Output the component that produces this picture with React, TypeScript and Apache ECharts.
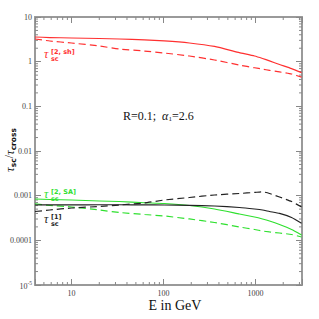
import React, { useEffect, useRef } from 'react';
import * as echarts from 'echarts';

// Energy grid (GeV) and tau_sc / tau_cross values
const energyGeV = [4, 5.8, 10, 20, 33, 62, 102, 191, 358, 667, 975, 1191, 1419, 1823, 2463, 3162];
const tauShSolid = [3.57, 3.47, 3.39, 3.30, 3.22, 3.08, 2.92, 2.62, 2.19, 1.60, 1.34, 1.18, 1.04, 0.865, 0.70, 0.57];
const tauShDashed = [3.22, 2.90, 2.62, 2.24, 1.92, 1.73, 1.56, 1.34, 1.09, 0.84, 0.73, 0.68, 0.64, 0.59, 0.53, 0.45];
const tauSaSolid = [8.43e-4, 8.2e-4, 8.0e-4, 7.6e-4, 7.41e-4, 6.95e-4, 6.68e-4, 6.03e-4, 5.03e-4, 3.89e-4, 3.33e-4, 3.01e-4, 2.71e-4, 2.26e-4, 1.75e-4, 1.32e-4];
const tauSaDashed = [6.52e-4, 6.03e-4, 5.58e-4, 4.78e-4, 4.2e-4, 3.79e-4, 3.51e-4, 3.01e-4, 2.51e-4, 1.99e-4, 1.75e-4, 1.62e-4, 1.54e-4, 1.46e-4, 1.35e-4, 1.19e-4];
const tau1Solid = [6.18e-4, 6.2e-4, 6.24e-4, 6.26e-4, 6.26e-4, 6.24e-4, 6.18e-4, 6.05e-4, 5.87e-4, 5.43e-4, 5.03e-4, 4.78e-4, 4.42e-4, 4.0e-4, 3.25e-4, 2.42e-4];
const tau1Dashed = [4.42e-4, 4.78e-4, 5.30e-4, 5.73e-4, 6.18e-4, 6.86e-4, 8.0e-4, 9.1e-4, 1.035e-3, 1.12e-3, 1.18e-3, 1.22e-3, 1.12e-3, 9.33e-4, 7.41e-4, 5.58e-4];

// Axis ranges and tick labels
const xRange = [4, 3200];
const yRange = [1e-5, 10];
const xTickExponents = [1, 2, 3];
const xTickLabels = ['10', '100', '1000'];
const yTickExponents = [-5, -4, -3, -2, -1, 0, 1];
const yTickLabels = ['{b|10}{p|-5}', '0.0001', '0.001', '0.01', '0.1', '1', '10'];

const RED = '#ff3030';
const GREEN = '#2fe02f';
const BLACK = '#222222';
const AXIS = '#9a9a9a';

function minorValues(lo: number, hi: number): number[] {
  const out: number[] = [];
  for (let k = -6; k <= 4; k++) {
    for (let m = 2; m <= 9; m++) {
      const v = m * Math.pow(10, k);
      if (v > lo && v < hi) out.push(v);
    }
  }
  return out;
}

function labelFor(v: number, exps: number[], labels: string[]): string {
  const l = Math.log10(v);
  const e = Math.round(l);
  if (Math.abs(l - e) > 1e-6) return '';
  const i = exps.indexOf(e);
  return i >= 0 ? labels[i] : '';
}

export default function App() {
  const ref = useRef<HTMLDivElement>(null);
  useEffect(() => {
    if (!ref.current) return;
    const chart = echarts.init(ref.current, undefined, { renderer: 'svg' });
    const pairs = (arr: number[]) => energyGeV.map((e, i) => [e, arr[i]]);
    const lineSeries = (name: string, arr: number[], color: string, dashed: boolean) => ({
      name,
      type: 'line',
      data: pairs(arr),
      showSymbol: false,
      smooth: 0.15,
      lineStyle: { color, width: 1.2, type: dashed ? [7, 4] : 'solid', join: 'round' },
      silent: true,
    });
    const tickStyle = { color: '#888', width: 1 };
    const axisCommon = {
      type: 'log',
      logBase: 10,
      axisLine: { show: true, onZero: false, lineStyle: { color: AXIS, width: 2 } },
      axisTick: { show: true, inside: true, length: 6, lineStyle: tickStyle },
      splitLine: { show: false },
      minorTick: { show: false },
    };
    const labelStyle = { fontSize: 8, fontFamily: 'Liberation Serif', color: '#444' };
    const xMinor = minorValues(xRange[0], xRange[1]);
    const yMinor = minorValues(yRange[0], yRange[1]);

    const option: any = {
      animation: false,
      backgroundColor: '#ffffff',
      grid: { left: 35, right: 17, top: 17, bottom: 34, containLabel: false },
      xAxis: [
        {
          ...axisCommon,
          min: xRange[0],
          max: xRange[1],
          position: 'bottom',
          axisLabel: {
            ...labelStyle,
            margin: 4,
            formatter: (v: number) => labelFor(v, xTickExponents, xTickLabels),
          },
        },
        {
          ...axisCommon,
          min: xRange[0],
          max: xRange[1],
          position: 'top',
          axisLabel: { show: false },
        },
      ],
      yAxis: [
        {
          ...axisCommon,
          min: yRange[0],
          max: yRange[1],
          position: 'left',
          axisLabel: {
            ...labelStyle,
            margin: 3,
            formatter: (v: number) => labelFor(v, yTickExponents, yTickLabels),
            rich: {
              b: { fontSize: 8, fontFamily: 'Liberation Serif', color: '#444', lineHeight: 10, verticalAlign: 'bottom' },
              p: { fontSize: 5.5, fontFamily: 'Liberation Serif', color: '#444', lineHeight: 6, verticalAlign: 'top' },
            },
          },
        },
        {
          ...axisCommon,
          min: yRange[0],
          max: yRange[1],
          position: 'right',
          axisLabel: { show: false },
        },
      ],
      series: [
        lineSeries('tau sh solid', tauShSolid, RED, false),
        lineSeries('tau sh dashed', tauShDashed, RED, true),
        lineSeries('tau SA solid', tauSaSolid, GREEN, false),
        lineSeries('tau SA dashed', tauSaDashed, GREEN, true),
        lineSeries('tau 1 solid', tau1Solid, BLACK, false),
        lineSeries('tau 1 dashed', tau1Dashed, BLACK, true),
        {
          type: 'custom',
          silent: true,
          clip: false,
          data: xMinor.map((v) => [v, 1]),
          renderItem: (params: any, api: any) => {
            const cs = params.coordSys;
            const x = api.coord([api.value(0), api.value(1)])[0];
            return {
              type: 'group',
              children: [
                { type: 'line', shape: { x1: x, y1: cs.y + cs.height, x2: x, y2: cs.y + cs.height - 3 }, style: { stroke: '#888', lineWidth: 1 } },
                { type: 'line', shape: { x1: x, y1: cs.y, x2: x, y2: cs.y + 3 }, style: { stroke: '#888', lineWidth: 1 } },
              ],
            };
          },
        },
        {
          type: 'custom',
          silent: true,
          clip: false,
          data: yMinor.map((v) => [10, v]),
          renderItem: (params: any, api: any) => {
            const cs = params.coordSys;
            const y = api.coord([api.value(0), api.value(1)])[1];
            return {
              type: 'group',
              children: [
                { type: 'line', shape: { x1: cs.x, y1: y, x2: cs.x + 3, y2: y }, style: { stroke: '#888', lineWidth: 1 } },
                { type: 'line', shape: { x1: cs.x + cs.width, y1: y, x2: cs.x + cs.width - 3, y2: y }, style: { stroke: '#888', lineWidth: 1 } },
              ],
            };
          },
        },
      ],
      graphic: [
        // curve annotations
        ...[
          { color: RED, sup: '[2, sh]', y: 55 },
          { color: GREEN, sup: '[2, SA]', y: 195 },
          { color: BLACK, sup: '[1]', y: 220 },
        ].flatMap((a) => [
          { type: 'text', x: 44, y: a.y - 1.5, style: { text: 'τ', fill: a.color, fontSize: 12, fontFamily: 'Liberation Serif', fontStyle: 'italic', align: 'left', verticalAlign: 'middle' } },
          { type: 'text', x: 51, y: a.y - 3.5, style: { text: a.sup, fill: a.color, fontSize: 6.5, fontWeight: 'bold', fontFamily: 'DejaVu Sans', align: 'left', verticalAlign: 'middle' } },
          { type: 'text', x: 51, y: a.y + 4, style: { text: 'sc', fill: a.color, fontSize: 6.5, fontWeight: 'bold', fontFamily: 'DejaVu Sans', align: 'left', verticalAlign: 'middle' } },
        ]),
        {
          type: 'text',
          x: 123,
          y: 115.5,
          style: {
            text: '{n|R=0.1;  }{a|α}{s|1}{n|=2.6}',
            align: 'left',
            verticalAlign: 'middle',
            fill: '#111',
            rich: {
              n: { fontSize: 12, fontFamily: 'Liberation Serif', lineHeight: 14, fill: '#111' },
              a: { fontSize: 12, fontFamily: 'Liberation Serif', fontStyle: 'italic', lineHeight: 14, fill: '#111' },
              s: { fontSize: 7, fontFamily: 'Liberation Serif', lineHeight: 8, verticalAlign: 'bottom', fill: '#111' },
            },
          },
        },
        {
          type: 'text',
          x: 9,
          y: 150,
          rotation: Math.PI / 2,
          style: {
            text: '{t|τ}{s|sc}{n|/}{t|τ}{s|cross}',
            align: 'center',
            verticalAlign: 'middle',
            fill: '#111',
            rich: {
              t: { fontSize: 13, fontFamily: 'Liberation Serif', fontStyle: 'italic', lineHeight: 16, fill: '#111' },
              n: { fontSize: 12, fontFamily: 'Liberation Serif', lineHeight: 16, fill: '#111' },
              s: { fontSize: 7.5, fontFamily: 'DejaVu Sans', fontWeight: 'bold', lineHeight: 8, verticalAlign: 'bottom', fill: '#111' },
            },
          },
        },
        {
          type: 'text',
          x: 175,
          y: 305,
          style: { text: 'E in GeV', fill: '#111', fontSize: 14, fontFamily: 'Liberation Serif', align: 'center', verticalAlign: 'middle' },
        },
      ],
    };
    chart.setOption(option);
    return () => chart.dispose();
  }, []);
  return <div ref={ref} style={{ position: 'fixed', left: 0, top: 0, width: 319, height: 319, background: '#fff' }} />;
}
